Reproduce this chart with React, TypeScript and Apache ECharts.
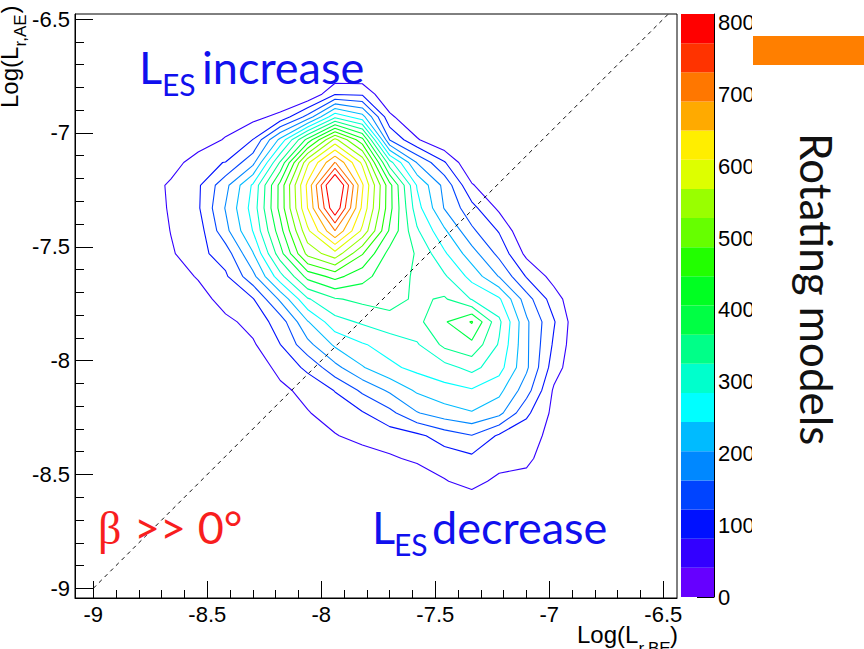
import React, { useEffect, useRef } from "react";
import * as echarts from "echarts";

// ---- histogram bin centres (data units) ----
const xCenters = [-8.9, -8.78, -8.66, -8.54, -8.42, -8.3, -8.18, -8.06, -7.94, -7.82, -7.7, -7.58, -7.46, -7.34, -7.22, -7.1, -6.98, -6.86, -6.74];
const yCenters = [-6.63, -6.73, -6.83, -6.93, -7.03, -7.13, -7.23, -7.33, -7.43, -7.53, -7.63, -7.73, -7.83, -7.93, -8.03, -8.13, -8.23, -8.33, -8.43, -8.53, -8.63, -8.73];

// ---- model counts per bin (rows top -> bottom, columns left -> right) ----
const counts = [
  [0, 0, 0, 0, 0, 0, 0, 0, 0, 0, 0, 0, 0, 0, 0, 0, 0, 0, 0],
  [0, 0, 0, 0, 0, 0, 0, 0, 0, 0, 0, 0, 0, 0, 0, 0, 0, 0, 0],
  [0, 0, 0, 0, 0, 0, 0, 0, 78, 75, 0, 0, 0, 0, 0, 0, 0, 0, 0],
  [0, 0, 0, 0, 0, 29, 52, 137, 276, 220, 50, 0, 0, 0, 0, 0, 0, 0, 0],
  [0, 0, 0, 0, 47, 82, 214, 380, 540, 420, 120, 45, 0, 0, 0, 0, 0, 0, 0],
  [0, 0, 10, 75, 82, 150, 330, 560, 693, 560, 300, 160, 85, 0, 0, 0, 0, 0, 0],
  [0, 0, 52, 75, 150, 250, 420, 620, 845, 615, 420, 240, 150, 45, 0, 0, 0, 0, 0],
  [0, 0, 48, 76, 165, 260, 420, 610, 810, 600, 420, 260, 160, 95, 32, 0, 0, 0, 0],
  [0, 0, 42, 62, 150, 245, 390, 560, 690, 560, 400, 290, 210, 130, 78, 0, 0, 0, 0],
  [0, 0, 35, 69, 100, 200, 350, 500, 555, 450, 350, 322, 250, 180, 110, 30, 0, 0, 0],
  [0, 0, 15, 45, 75, 150, 270, 380, 420, 380, 340, 320, 290, 230, 160, 78, 25, 0, 0],
  [0, 0, 0, 20, 60, 78, 170, 280, 321, 335, 340, 318, 330, 282, 250, 140, 60, 0, 0],
  [0, 0, 0, 0, 30, 55, 100, 200, 270, 290, 310, 314, 361, 410, 293, 170, 85, 0, 0],
  [0, 0, 0, 0, 0, 35, 81, 150, 210, 240, 260, 280, 335, 355, 280, 170, 75, 0, 0],
  [0, 0, 0, 0, 0, 10, 55, 90, 150, 200, 235, 255, 270, 297, 260, 170, 60, 0, 0],
  [0, 0, 0, 0, 0, 0, 30, 55, 83, 130, 170, 210, 230, 240, 215, 140, 35, 0, 0],
  [0, 0, 0, 0, 0, 0, 0, 38, 60, 78, 110, 160, 185, 200, 175, 90, 30, 0, 0],
  [0, 0, 0, 0, 0, 0, 0, 0, 38, 55, 62, 72, 100, 120, 75, 55, 30, 0, 0],
  [0, 0, 0, 0, 0, 0, 0, 0, 0, 20, 35, 48, 60, 72, 60, 55, 0, 0, 0],
  [0, 0, 0, 0, 0, 0, 0, 0, 0, 0, 0, 15, 38, 55, 30, 20, 0, 0, 0],
  [0, 0, 0, 0, 0, 0, 0, 0, 0, 0, 0, 0, 5, 15, 5, 0, 0, 0, 0],
  [0, 0, 0, 0, 0, 0, 0, 0, 0, 0, 0, 0, 0, 0, 0, 0, 0, 0, 0],
];

// ---- colour scale ----
const zMax = 812.5;
const nLevels = 20;
const palette = [
  "#6600ff", "#3300ff", "#0011ff", "#0044ff", "#0088ff", "#00bbff", "#00ffff", "#00ffcc", "#00ff88", "#00ff44",
  "#00ff22", "#22ff00", "#66ff00", "#99ff00", "#ddff00", "#ffee00", "#ffaa00", "#ff7700", "#ff3300", "#ff0000",
];

// ---- axis ticks ----
const majorTicks = [-9, -8.5, -8, -7.5, -7, -6.5];
const minorTicks = [-9, -8.9, -8.8, -8.7, -8.6, -8.5, -8.4, -8.3, -8.2, -8.1, -8, -7.9, -7.8, -7.7, -7.6, -7.5, -7.4, -7.3, -7.2, -7.1, -7, -6.9, -6.8, -6.7, -6.6, -6.5];
const zTicks = [0, 100, 200, 300, 400, 500, 600, 700, 800];
const diagonal = [[-9, -9], [-6.478, -6.478]];

function buildContours(level: number): number[][][] {
  const nx = xCenters.length;
  const ny = yCenters.length;
  const points = new Map<string, number[]>();
  const segs: [string, string][] = [];
  const ptH = (j: number, i: number) => {
    const key = `h${j}_${i}`;
    if (!points.has(key)) {
      const v1 = counts[j][i], v2 = counts[j][i + 1];
      const t = (level - v1) / (v2 - v1);
      points.set(key, [xCenters[i] + t * (xCenters[i + 1] - xCenters[i]), yCenters[j]]);
    }
    return key;
  };
  const ptV = (j: number, i: number) => {
    const key = `v${j}_${i}`;
    if (!points.has(key)) {
      const v1 = counts[j][i], v2 = counts[j + 1][i];
      const t = (level - v1) / (v2 - v1);
      points.set(key, [xCenters[i], yCenters[j] + t * (yCenters[j + 1] - yCenters[j])]);
    }
    return key;
  };
  for (let j = 0; j < ny - 1; j++) {
    for (let i = 0; i < nx - 1; i++) {
      const a = counts[j][i], b = counts[j][i + 1], c = counts[j + 1][i + 1], d = counts[j + 1][i];
      const A = a >= level, B = b >= level, C = c >= level, D = d >= level;
      const top = A !== B ? ptH(j, i) : null;
      const right = B !== C ? ptV(j, i + 1) : null;
      const bottom = D !== C ? ptH(j + 1, i) : null;
      const left = A !== D ? ptV(j, i) : null;
      const list = [top, right, bottom, left].filter((k) => k !== null) as string[];
      if (list.length === 2) segs.push([list[0], list[1]]);
      else if (list.length === 4) {
        const centerAbove = (a + b + c + d) / 4 >= level;
        if (A === centerAbove) {
          segs.push([top as string, right as string]);
          segs.push([bottom as string, left as string]);
        } else {
          segs.push([left as string, top as string]);
          segs.push([right as string, bottom as string]);
        }
      }
    }
  }
  const adj = new Map<string, number[]>();
  segs.forEach((s, idx) => {
    for (const k of s) {
      if (!adj.has(k)) adj.set(k, []);
      adj.get(k)!.push(idx);
    }
  });
  const used = new Array(segs.length).fill(false);
  const lines: number[][][] = [];
  for (let s = 0; s < segs.length; s++) {
    if (used[s]) continue;
    used[s] = true;
    const chain = [segs[s][0], segs[s][1]];
    const extend = (forward: boolean) => {
      for (;;) {
        const endKey = forward ? chain[chain.length - 1] : chain[0];
        const nextIdx = (adj.get(endKey) || []).find((id) => !used[id]);
        if (nextIdx === undefined) return;
        used[nextIdx] = true;
        const seg = segs[nextIdx];
        const other = seg[0] === endKey ? seg[1] : seg[0];
        if (forward) chain.push(other);
        else chain.unshift(other);
      }
    };
    extend(true);
    extend(false);
    lines.push(chain.map((k) => points.get(k)!));
  }
  return lines;
}

const SANS = '"Liberation Sans", Arial, sans-serif';
const LATO = 'Lato, "Open Sans", sans-serif';

function txt(text: string, x: number, y: number, size: number, color: string, family: string, extra: any = {}) {
  return {
    type: "text",
    x,
    y,
    z: 50,
    style: {
      text,
      fontSize: size,
      fontFamily: family,
      fill: color,
      align: "left",
      textAlign: "left",
      verticalAlign: "middle",
      textVerticalAlign: "middle",
    },
    ...extra,
  };
}

export default function App() {
  const ref = useRef<HTMLDivElement>(null);
  useEffect(() => {
    if (!ref.current) return;
    const chart = echarts.init(ref.current, null, { renderer: "svg" });
    const step = zMax / nLevels;
    const series: any[] = [];
    for (let k = 1; k < nLevels; k++) {
      const lines = buildContours(k * step);
      lines.forEach((line) => {
        series.push({
          type: "line",
          xAxisIndex: 0,
          yAxisIndex: 0,
          data: line,
          showSymbol: false,
          symbol: "none",
          silent: true,
          z: 2,
          lineStyle: { color: palette[k], width: 1.1 },
        });
      });
    }
    series.push({
      type: "line",
      xAxisIndex: 0,
      yAxisIndex: 0,
      data: diagonal,
      showSymbol: false,
      symbol: "none",
      silent: true,
      z: 3,
      lineStyle: { color: "#111", width: 1, type: [4, 4] },
    });
    palette.forEach((col) => {
      series.push({
        type: "bar",
        xAxisIndex: 2,
        yAxisIndex: 2,
        stack: "cb",
        data: [step],
        barWidth: "100%",
        silent: true,
        itemStyle: { color: col },
        z: 1,
      });
    });

    const tickLabel = { fontSize: 22, fontFamily: SANS, color: "#000" };
    const option: any = {
      animation: false,
      backgroundColor: "#ffffff",
      grid: [
        { left: 75, top: 14, width: 602, height: 584, show: true, borderColor: "#000", borderWidth: 1, backgroundColor: "transparent" },
        { left: 681, top: 14, width: 33, height: 583 },
      ],
      xAxis: [
        {
          type: "value", gridIndex: 0, min: -9.0803, max: -6.4399, position: "bottom",
          axisLine: { show: true, onZero: false, lineStyle: { color: "#000", width: 1 } },
          axisTick: { show: true, inside: true, length: 17, customValues: majorTicks, lineStyle: { color: "#000" } },
          axisLabel: { show: true, customValues: majorTicks, margin: 5, ...tickLabel },
          splitLine: { show: false },
        },
        {
          type: "value", gridIndex: 0, min: -9.0803, max: -6.4399, position: "bottom",
          axisLine: { show: false },
          axisTick: { show: true, inside: true, length: 8, customValues: minorTicks, lineStyle: { color: "#000" } },
          axisLabel: { show: false },
          splitLine: { show: false },
        },
        { type: "category", gridIndex: 1, data: ["z"], show: false },
      ],
      yAxis: [
        {
          type: "value", gridIndex: 0, min: -9.0426, max: -6.4778, position: "left",
          axisLine: { show: true, onZero: false, lineStyle: { color: "#000", width: 1 } },
          axisTick: { show: true, inside: true, length: 18, customValues: majorTicks, lineStyle: { color: "#000" } },
          axisLabel: { show: true, customValues: majorTicks, margin: 5, ...tickLabel },
          splitLine: { show: false },
        },
        {
          type: "value", gridIndex: 0, min: -9.0426, max: -6.4778, position: "left",
          axisLine: { show: false },
          axisTick: { show: true, inside: true, length: 9, customValues: minorTicks, lineStyle: { color: "#000" } },
          axisLabel: { show: false },
          splitLine: { show: false },
        },
        {
          type: "value", gridIndex: 1, min: 0, max: zMax, position: "right",
          axisLine: { show: true, lineStyle: { color: "#000", width: 1 } },
          axisTick: { show: true, inside: true, length: 17, customValues: zTicks, lineStyle: { color: "#000" } },
          axisLabel: { show: true, customValues: zTicks, margin: 4, ...tickLabel },
          splitLine: { show: false },
        },
      ],
      series,
      graphic: [
        { type: "rect", shape: { x: 752, y: 0, width: 36, height: 649 }, style: { fill: "#ffffff" }, z: 100 },
        { type: "rect", shape: { x: 753, y: 36, width: 112, height: 29 }, style: { fill: "#ff7f00" }, z: 101 },
        {
          type: "group", x: 0, y: 108, rotation: Math.PI / 2, z: 50,
          children: [
            txt("Log(L", 0, 9.5, 24, "#000", SANS),
            txt("r,AE", 61.5, 20, 17, "#000", SANS),
            txt(")", 94.5, 9.5, 24, "#000", SANS),
          ],
        },
        txt("Log(L", 577, 634, 24, "#000", SANS),
        txt("r,BE", 638.5, 648.5, 17, "#000", SANS),
        txt(")", 670, 634, 24, "#000", SANS),
        txt("L", 139, 67, 45, "#1010ee", LATO),
        txt("ES", 162, 84, 30, "#1010ee", LATO),
        txt("increase", 202, 67, 45, "#1010ee", LATO),
        txt("L", 372, 527, 45, "#1010ee", LATO),
        txt("ES", 394, 544, 30, "#1010ee", LATO),
        txt("decrease", 432, 527, 45, "#1010ee", LATO),
        txt("β", 98, 528, 46, "#f81e1e", '"Liberation Serif", serif'),
        txt(">> 0°", 134, 527, 45, "#f81e1e", LATO),
        {
          type: "group", x: 817, y: 133, rotation: -Math.PI / 2, z: 50,
          children: [txt("Rotating models", 0, 0, 44, "#111", LATO)],
        },
      ],
    };
    chart.setOption(option);
    return () => chart.dispose();
  }, []);
  return <div ref={ref} style={{ position: "fixed", left: 0, top: 0, width: 864, height: 649 }} />;
}
